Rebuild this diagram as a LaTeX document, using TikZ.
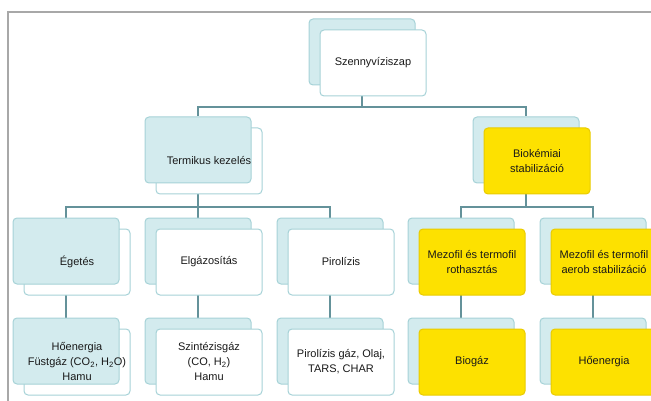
\documentclass[tikz,border=0pt]{standalone}
\usepackage{fontspec}
\setmainfont{Liberation Sans}
\usetikzlibrary{positioning,backgrounds}
\definecolor{tealfill}{HTML}{D3EBEE}
\definecolor{tealline}{HTML}{A6D2D7}
\definecolor{goldfill}{HTML}{FDE100}
\definecolor{goldline}{HTML}{E9CB00}
\definecolor{linkcol}{HTML}{64929A}
\definecolor{framecol}{HTML}{A8A8A8}

\begin{document}
\begin{tikzpicture}[x=1pt, y=-1pt,
    box/.style={rectangle, draw, rounded corners=4pt, line width=1pt, minimum width=106pt, minimum height=66pt, inner sep=2pt, align=center, font=\fontsize{11}{15}\selectfont, text=black!90},
    tealbox/.style={box, draw=tealline, fill=tealfill},
    whitebox/.style={box, draw=tealline, fill=white},
    goldbox/.style={box, draw=goldline, fill=goldfill},
    lbl/.style={align=center, font=\fontsize{11}{15}\selectfont, text=black!90},
    link/.style={draw=linkcol, line width=1.2pt},
    frame/.style={draw=framecol, line width=2pt}
]
    \useasboundingbox (0,0) rectangle (651,401);
    \clip (0,0) rectangle (651,401);

    \draw[frame] (7,12) -- (651,12);
    \draw[frame] (8,11) -- (8,401);

    % top
    \node[tealbox] (root) at (362,52) {};
    \node[whitebox] (rootb) at ([shift={(11,11)}]root.center) {Szennyvíziszap};

    % second row
    \node[whitebox] (termikusb) at (209,161) {};
    \node[tealbox] (termikus) at (198,150) {};
    \node[lbl] (termikust) at (termikusb.center) {Termikus kezelés};

    \node[tealbox] (biokem) at (526,150) {};
    \node[goldbox] (biokemb) at ([shift={(11,11)}]biokem.center) {Biokémiai\\stabilizáció};

    % third row
    \node[whitebox] (egetb) at (77,262) {};
    \node[tealbox] (eget) at (66,251) {};
    \node[lbl] (egett) at (egetb.center) {Égetés};

    \node[tealbox] (elgaz) at (198,251) {};
    \node[whitebox] (elgazb) at ([shift={(11,11)}]elgaz.center) {Elgázosítás};

    \node[tealbox] (piro) at (330,251) {};
    \node[whitebox] (pirob) at ([shift={(11,11)}]piro.center) {Pirolízis};

    \node[tealbox] (rotha) at (461,251) {};
    \node[goldbox] (rothab) at ([shift={(11,11)}]rotha.center) {Mezofil és termofil\\rothasztás};

    \node[tealbox] (aerob) at (593,251) {};
    \node[goldbox] (aerobb) at ([shift={(11,11)}]aerob.center) {Mezofil és termofil\\aerob stabilizáció};

    % bottom row
    \node[whitebox] (hoenb) at (77,362) {};
    \node[tealbox] (hoen) at (66,351) {};
    \node[lbl] (hoent) at (hoenb.center) {Hőenergia\\Füstgáz (CO\textsubscript{2}, H\textsubscript{2}O)\\Hamu};

    \node[tealbox] (szint) at (198,351) {};
    \node[whitebox] (szintb) at ([shift={(11,11)}]szint.center) {Szintézisgáz\\(CO, H\textsubscript{2})\\Hamu};

    \node[tealbox] (pgaz) at (330,351) {};
    \node[whitebox] (pgazb) at ([shift={(11,11)}]pgaz.center) {Pirolízis gáz, Olaj,\\TARS, CHAR};

    \node[tealbox] (biogaz) at (461,351) {};
    \node[goldbox] (biogazb) at ([shift={(11,11)}]biogaz.center) {Biogáz};

    \node[tealbox] (hoen2) at (593,351) {};
    \node[goldbox] (hoen2b) at ([shift={(11,11)}]hoen2.center) {Hőenergia};

    % connectors, behind the boxes
    \begin{scope}[on background layer]
        \coordinate (bus1) at (362,107);
        \coordinate (bus2) at (198,207);
        \coordinate (bus3) at (526,207);

        \draw[link] (root.south) -- (bus1);
        \draw[link] (bus1) -| (termikus.north);
        \draw[link] (bus1) -| (biokem.north);

        \draw[link] (termikus.south) -- (bus2);
        \draw[link] (bus2) -| (eget.north);
        \draw[link] (bus2) -- (elgaz.north);
        \draw[link] (bus2) -| (piro.north);

        \draw[link] (biokem.south) -- (bus3);
        \draw[link] (bus3) -| (rotha.north);
        \draw[link] (bus3) -| (aerob.north);

        \draw[link] (eget.south) -- (hoen.north);
        \draw[link] (elgaz.south) -- (szint.north);
        \draw[link] (piro.south) -- (pgaz.north);
        \draw[link] (rotha.south) -- (biogaz.north);
        \draw[link] (aerob.south) -- (hoen2.north);
    \end{scope}
\end{tikzpicture}
\end{document}
